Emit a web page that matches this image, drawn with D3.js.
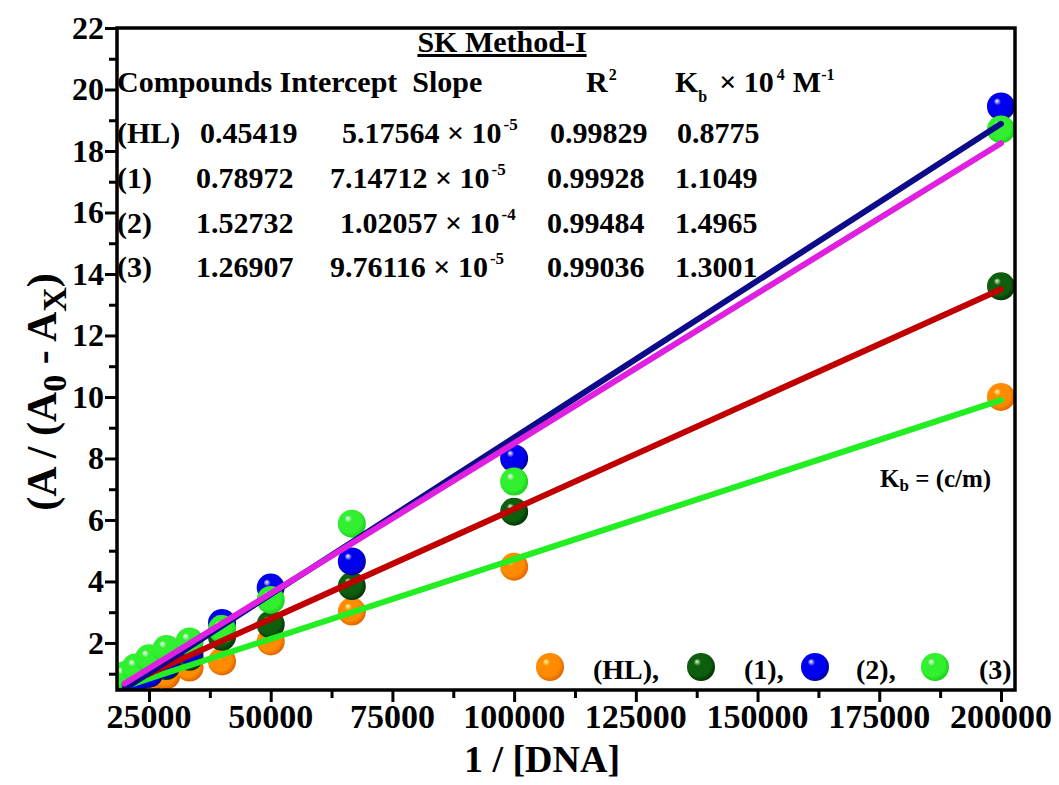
<!DOCTYPE html>
<html>
<head>
<meta charset="utf-8">
<script src="https://cdn.jsdelivr.net/npm/d3@7"></script>
<style>
  html, body { margin: 0; padding: 0; background: #fff; }
  svg { display: block; }
  text { font-family: "Liberation Serif", "Times New Roman", serif; font-weight: bold; fill: #000; }
</style>
</head>
<body>
<svg id="chart" width="1059" height="785"></svg>
<script>
// 1/[DNA] values shared by every compound
const dnaInv = [20000, 22222, 25000, 28571, 33333, 40000, 50000, 66667, 100000, 200000];

// A / (A0 - Ax) for each compound
const seriesHL = [0.55, 0.65, 0.8, 0.95, 1.2, 1.4, 2.05, 3.02, 4.48, 10.0];
const series1  = [0.7, 0.85, 1.0, 1.25, 1.55, 2.2, 2.6, 3.85, 6.27, 13.6];
const series2  = [0.6, 0.8, 1.0, 1.3, 1.75, 2.65, 3.8, 4.65, 8.0, 19.45];
const series3  = [0.95, 1.2, 1.5, 1.8, 2.05, 2.45, 3.4, 5.88, 7.25, 18.7];

// fit table (SK Method-I)
const compounds   = ["(HL)", "(1)", "(2)", "(3)"];
const intercepts  = [0.45419, 0.78972, 1.52732, 1.26907];
const slopes      = [5.17564e-5, 7.14712e-5, 1.02057e-4, 9.76116e-5];
const slopeText   = ["5.17564", "7.14712", "1.02057", "9.76116"];
const slopeExp    = ["-5", "-5", "-4", "-5"];
const r2Text      = ["0.99829", "0.99928", "0.99484", "0.99036"];
const kbText      = ["0.8775", "1.1049", "1.4965", "1.3001"];

// axis ticks
const xTicks = [25000, 50000, 75000, 100000, 125000, 150000, 175000, 200000];
const yTicks = [2, 4, 6, 8, 10, 12, 14, 16, 18, 20, 22];
const fitRange = [20000, 200000];

const pointColors = [
  { hi: "#ffffa0", mid: "#ff8c00", edge: "#d85a00" },
  { hi: "#d8ffd0", mid: "#0d5e0d", edge: "#022802" },
  { hi: "#ffffff", mid: "#0000f0", edge: "#000088" },
  { hi: "#ffffff", mid: "#30f030", edge: "#18c818" }
];
const lineColors = ["#22ee22", "#c00000", "#0c0c8a", "#e020e0"];

const svg = d3.select("#chart");
const L = 117, R = 1015, T = 28, B = 690;

const x = d3.scaleLinear().domain([18430, 202880]).range([L, R]);
const y = d3.scaleLinear().domain([0.47, 22]).range([B, T]);

const defs = svg.append("defs");
pointColors.forEach((c, i) => {
  const g = defs.append("radialGradient").attr("id", "ball" + i)
    .attr("cx", "0.45").attr("cy", "0.45").attr("r", "0.6")
    .attr("fx", "0.35").attr("fy", "0.3");
  g.append("stop").attr("offset", "0").attr("stop-color", c.hi);
  g.append("stop").attr("offset", "0.22").attr("stop-color", c.mid);
  g.append("stop").attr("offset", "0.7").attr("stop-color", c.mid);
  g.append("stop").attr("offset", "1").attr("stop-color", c.edge);
});
defs.append("clipPath").attr("id", "plotClip")
  .append("rect").attr("x", L).attr("y", T).attr("width", R - L).attr("height", B - T);

// points
const allSeries = [seriesHL, series1, series2, series3];
const plot = svg.append("g").attr("clip-path", "url(#plotClip)");
allSeries.forEach((vals, i) => {
  plot.append("g").selectAll("circle")
    .data(vals.map((v, k) => [dnaInv[k], v]))
    .join("circle")
    .attr("cx", d => x(d[0]))
    .attr("cy", d => y(d[1]))
    .attr("r", 14)
    .attr("fill", `url(#ball${i})`);
});

// fitted lines: y = slope * x - intercept
const line = d3.line().x(d => x(d[0])).y(d => y(d[1]));
slopes.forEach((m, i) => {
  const pts = fitRange.map(v => [v, m * v - intercepts[i]]);
  plot.append("path").attr("d", line(pts))
    .attr("fill", "none").attr("stroke", lineColors[i])
    .attr("stroke-width", 6).attr("stroke-linecap", "round");
});

// axes (ticks only; labels drawn separately)
const xAxis = d3.axisBottom(x).tickValues(d3.range(25000, 200001, 12500))
  .tickSize(10).tickFormat("");
const gx = svg.append("g").attr("transform", `translate(0,${B})`).call(xAxis);
gx.selectAll(".tick line").attr("stroke-width", 3)
  .attr("y2", d => (d % 25000 === 0 ? 12 : 8));
gx.select(".domain").remove();

const yAxis = d3.axisLeft(y).tickValues(d3.range(1, 22.1, 1)).tickSize(10).tickFormat("");
const gy = svg.append("g").attr("transform", `translate(${L},0)`).call(yAxis);
gy.selectAll(".tick line").attr("stroke-width", 3)
  .attr("x2", d => (d % 2 === 0 ? -12 : -8));
gy.select(".domain").remove();

// frame
svg.append("rect").attr("x", L).attr("y", T).attr("width", R - L).attr("height", B - T)
  .attr("fill", "none").attr("stroke", "#000").attr("stroke-width", 3.5);

// tick labels
svg.append("g").selectAll("text").data(xTicks).join("text")
  .attr("x", d => x(d)).attr("y", 728)
  .attr("text-anchor", "middle").attr("font-size", 34)
  .text(d => d);
svg.append("g").selectAll("text").data(yTicks).join("text")
  .attr("x", 104).attr("y", d => y(d) + 11)
  .attr("text-anchor", "end").attr("font-size", 32)
  .text(d => d);

// axis titles
svg.append("text").attr("x", 542).attr("y", 772).attr("text-anchor", "middle")
  .attr("font-size", 38).text("1 / [DNA]");
const yt = svg.append("text").attr("transform", "translate(56,392) rotate(-90)")
  .attr("text-anchor", "middle").attr("font-size", 42);
yt.append("tspan").text("(A / (A");
yt.append("tspan").attr("dy", 10).attr("font-size", 34).text("0");
yt.append("tspan").attr("dy", -10).text(" - A");
yt.append("tspan").attr("dy", 10).attr("font-size", 34).text("X");
yt.append("tspan").attr("dy", -10).text(")");

// fit table
const fs = 30;
svg.append("text").attr("x", 502).attr("y", 52).attr("text-anchor", "middle")
  .attr("font-size", fs).attr("text-decoration", "underline").text("SK Method-I");
svg.append("text").attr("x", 117).attr("y", 92).attr("font-size", fs)
  .attr("xml:space", "preserve").text("Compounds Intercept  Slope");
const rh = svg.append("text").attr("x", 586).attr("y", 92).attr("font-size", fs);
rh.append("tspan").text("R");
rh.append("tspan").attr("dy", -12).attr("dx", 1).attr("font-size", 16).text("2");
const kh = svg.append("text").attr("x", 675).attr("y", 92).attr("font-size", fs);
kh.append("tspan").text("K");
kh.append("tspan").attr("dy", 10).attr("font-size", 16).text("b");
kh.append("tspan").attr("dy", -10).attr("dx", 12).text("× 10");
kh.append("tspan").attr("dy", -12).attr("dx", 3).attr("font-size", 16).text("4");
kh.append("tspan").attr("dy", 12).attr("dx", 8).text("M");
kh.append("tspan").attr("dy", -12).attr("font-size", 16).text("-1");

const rowY = [143, 188, 233, 277];
const slopeX = [342, 330, 340, 330];
compounds.forEach((c, i) => {
  svg.append("text").attr("x", 117).attr("y", rowY[i]).attr("font-size", fs).text(c);
  svg.append("text").attr("x", i === 0 ? 200 : 196).attr("y", rowY[i]).attr("font-size", fs)
    .text(intercepts[i].toFixed(5));
  const st = svg.append("text").attr("x", slopeX[i]).attr("y", rowY[i]).attr("font-size", fs);
  st.append("tspan").text(slopeText[i] + " × 10");
  st.append("tspan").attr("dy", -13).attr("dx", 2).attr("font-size", 17).text(slopeExp[i]);
  svg.append("text").attr("x", i === 0 ? 550 : 547).attr("y", rowY[i]).attr("font-size", fs).text(r2Text[i]);
  svg.append("text").attr("x", i === 0 ? 677 : 675).attr("y", rowY[i]).attr("font-size", fs).text(kbText[i]);
});

// Kb note
const kn = svg.append("text").attr("x", 880).attr("y", 487).attr("font-size", 25);
kn.append("tspan").text("K");
kn.append("tspan").attr("dy", 4).attr("font-size", 17).text("b");
kn.append("tspan").attr("dy", -4).text(" = (c/m)");

// legend
const legendBallX = [550, 701, 815, 935];
const legendTextX = [593, 744, 856, 979];
const legendLabels = ["(HL),", "(1),", "(2),", "(3)"];
legendLabels.forEach((lab, i) => {
  svg.append("circle").attr("cx", legendBallX[i]).attr("cy", 667).attr("r", 14)
    .attr("fill", `url(#ball${i})`);
  svg.append("text").attr("x", legendTextX[i]).attr("y", 679).attr("font-size", 28).text(lab);
});
</script>
</body>
</html>
